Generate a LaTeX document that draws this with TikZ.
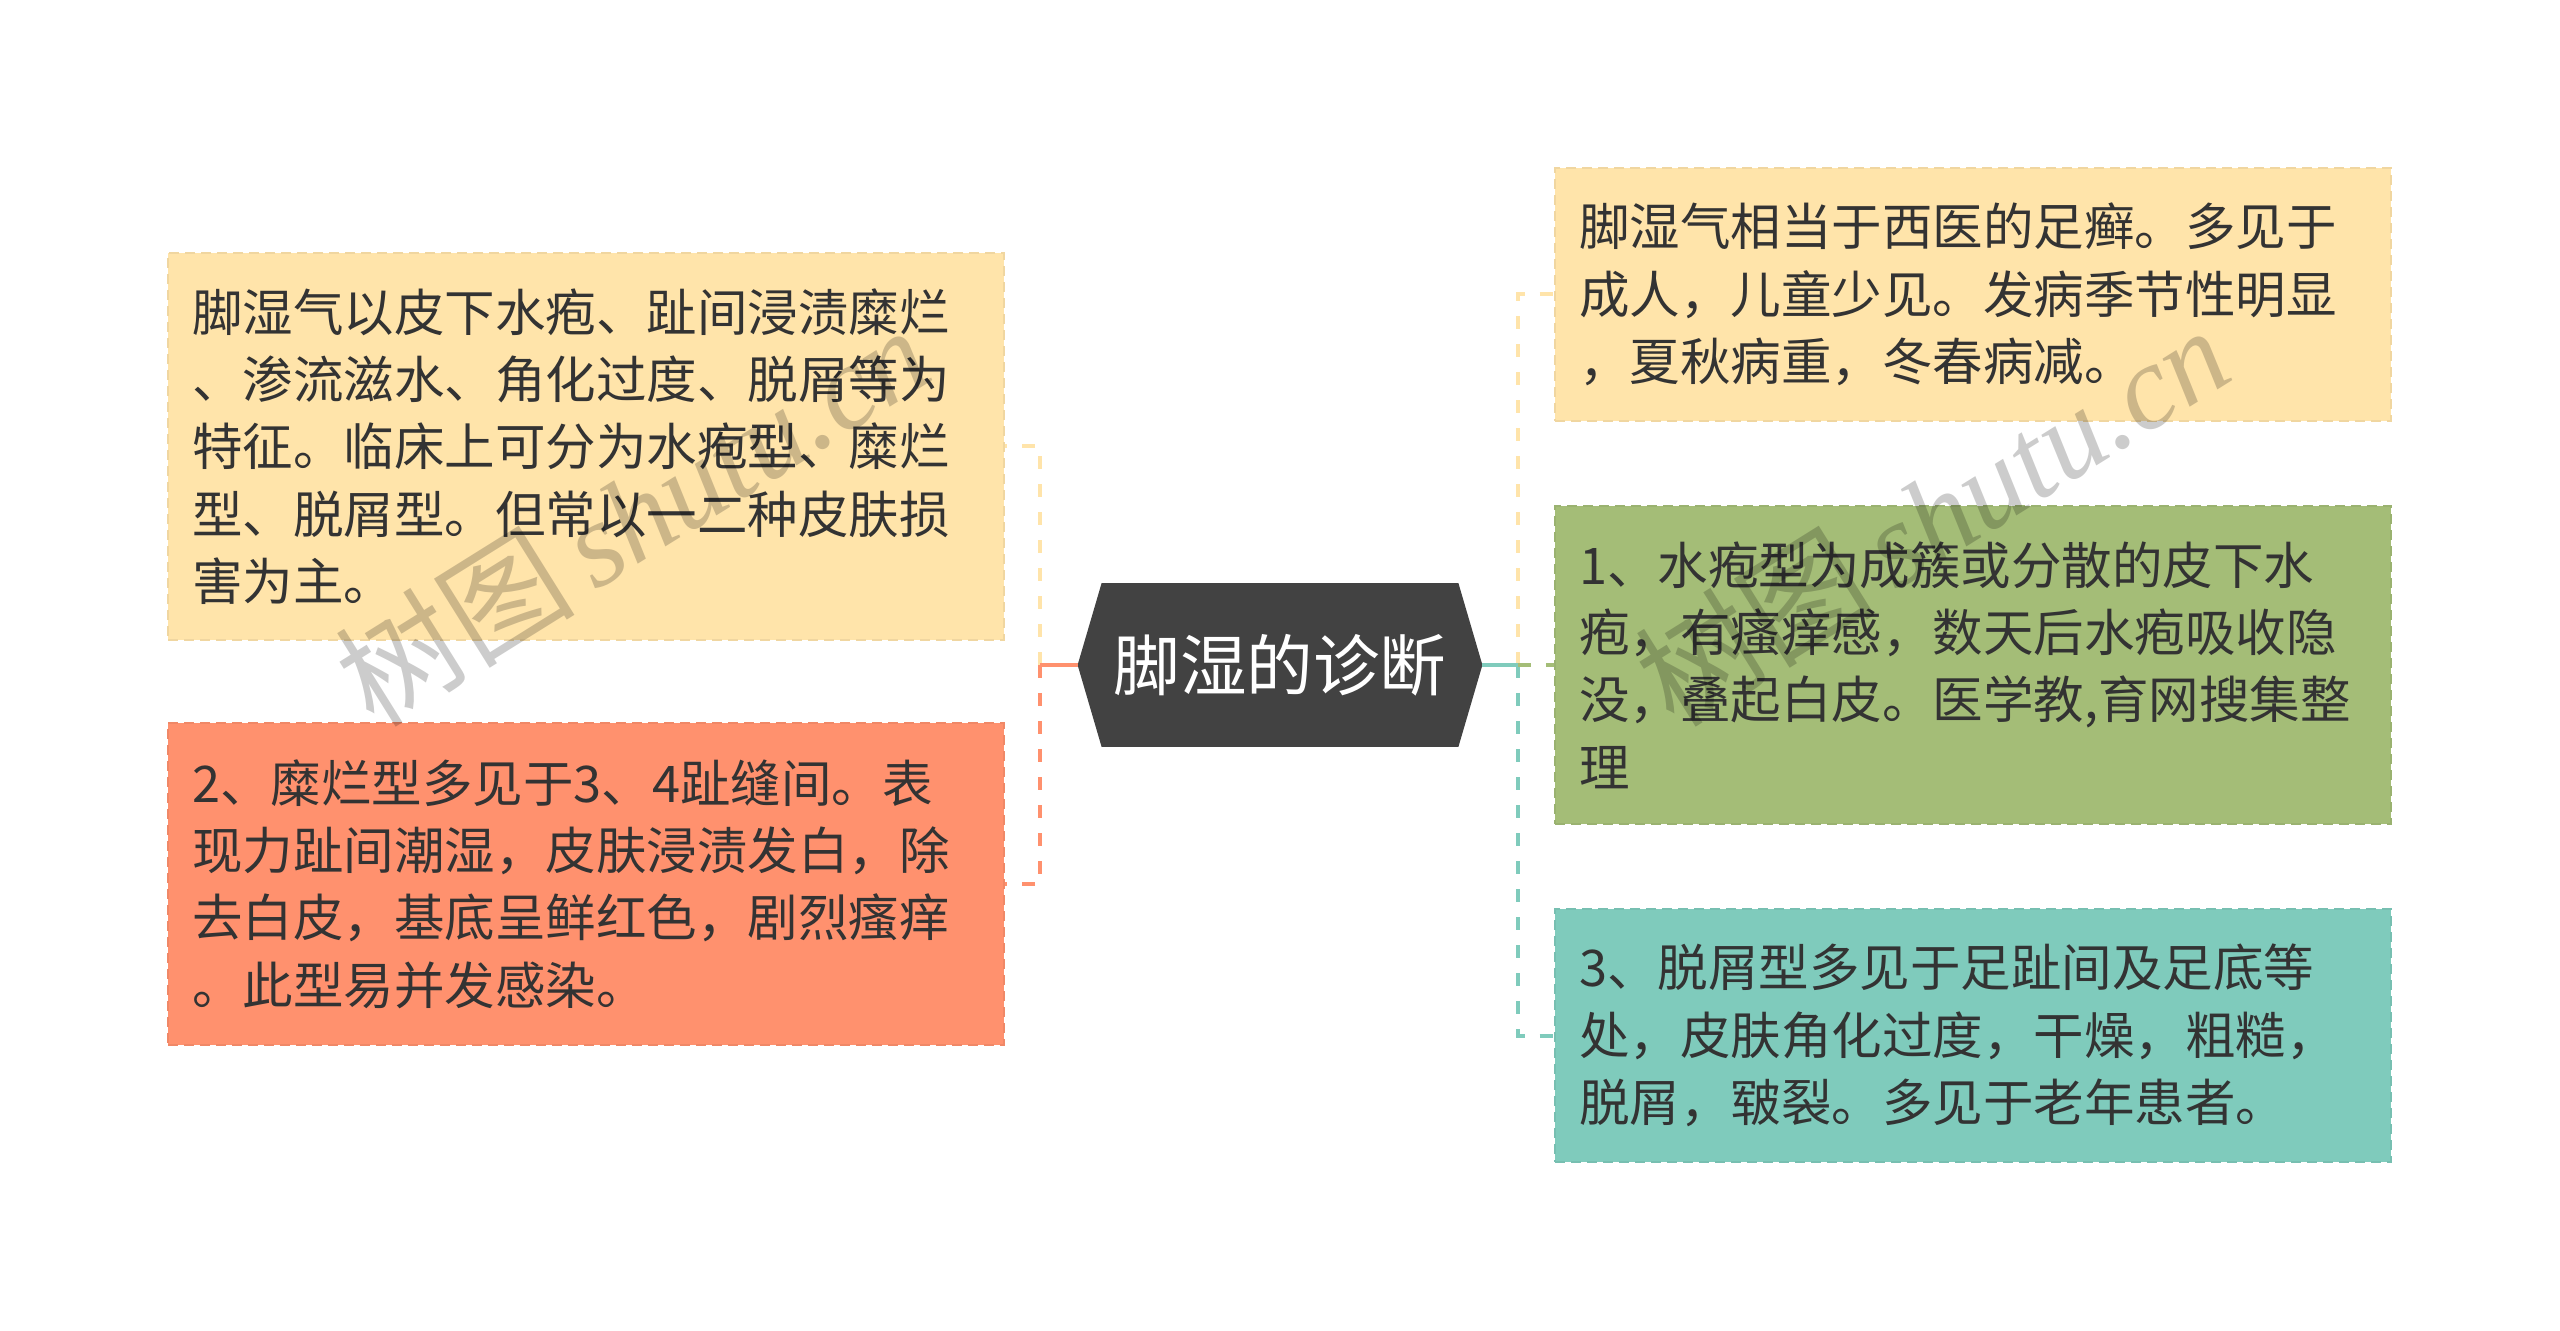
\documentclass[tikz,border=0pt]{standalone}
\usepackage{fontspec}
\setmainfont{Noto Sans CJK SC}
\newfontfamily\wmcjk{Noto Sans CJK SC}
\newfontfamily\wmlat{Liberation Serif}
\usetikzlibrary{calc,backgrounds}
\definecolor{cyellow}{HTML}{FFE4AA}
\definecolor{corange}{HTML}{FF916E}
\definecolor{cgreen}{HTML}{A4BD77}
\definecolor{cteal}{HTML}{7FCBBC}
\definecolor{ctext}{HTML}{333333}
\definecolor{chex}{HTML}{424242}
\tikzset{
  leaf/.style={rectangle, fill=#1, draw=#1!94!black, line width=1pt,
    dash pattern=on 5pt off 3pt, minimum width=418pt, text width=394pt,
    inner xsep=12pt, inner ysep=0pt, align=left, text=ctext,
    font=\fontsize{25.25pt}{33.7pt}\selectfont},
  rootnode/.style={rectangle, minimum width=202pt, minimum height=81.5pt,
    inner sep=0pt, text=white, font=\fontsize{33.3pt}{40pt}\selectfont},
  link/.style={line width=2pt, dash pattern=on 6.5pt off 7.5pt},
  stub/.style={line width=2pt},
  watermark/.style={rotate=32, text=black, text opacity=0.2, inner sep=0pt,
    font=\fontsize{60pt}{64pt}\selectfont}
}
\begin{document}
\begin{tikzpicture}[x=0.5pt, y=-0.5pt]
\useasboundingbox (0,0) rectangle (2560,1331);

\node[rootnode] (root) at (1280,665) {脚湿的诊断};
\begin{scope}[on background layer]
\fill[chex] (root.west) -- ($(root.north west)+(24,0)$) -- ($(root.north east)+(-24,0)$)
  -- (root.east) -- ($(root.south east)+(-24,0)$) -- ($(root.south west)+(24,0)$) -- cycle;
\end{scope}

\node[leaf=cyellow, minimum height=193.5pt] (L1) at (586,446.5)
  {脚湿气以皮下水疱、趾间浸渍糜烂\\、渗流滋水、角化过度、脱屑等为\\特征。临床上可分为水疱型、糜烂\\型、脱屑型。但常以一二种皮肤损\\害为主。};
\node[leaf=corange, minimum height=161pt] (L2) at (586,884)
  {2、糜烂型多见于3、4趾缝间。表\\现力趾间潮湿，皮肤浸渍发白，除\\去白皮，基底呈鲜红色，剧烈瘙痒\\。此型易并发感染。};
\node[leaf=cyellow, minimum height=126.5pt] (R1) at (1973,294.5)
  {脚湿气相当于西医的足癣。多见于\\成人，儿童少见。发病季节性明显\\，夏秋病重，冬春病减。};
\node[leaf=cgreen, minimum height=159pt] (R2) at (1973,665)
  {1、水疱型为成簇或分散的皮下水\\疱，有瘙痒感，数天后水疱吸收隐\\没，叠起白皮。医学教,育网搜集整\\理};
\node[leaf=cteal, minimum height=126.5pt] (R3) at (1973,1035.5)
  {3、脱屑型多见于足趾间及足底等\\处，皮肤角化过度，干燥，粗糙，\\脱屑，皲裂。多见于老年患者。};

\coordinate (jl) at (1040,665);
\coordinate (jr) at (1518,665);
\draw[link, cyellow] (jl) |- (L1.east);
\draw[link, corange] (jl) |- (L2.east);
\draw[stub, corange] (root.west) -- (jl);
\draw[link, cyellow] (jr) |- (R1.west);
\draw[link, cteal] (jr) |- (R3.west);
\draw[link, cgreen] (jr) -- (R2.west);
\draw[stub, cteal] (root.east) -- (jr);

\node[watermark] (wm1) at (632,515) {{\wmcjk 树图}\hspace{10pt}{\wmlat\itshape shutu.cn}};
\node[watermark] (wm2) at (1932,515) {{\wmcjk 树图}\hspace{10pt}{\wmlat\itshape shutu.cn}};
\end{tikzpicture}
\end{document}
